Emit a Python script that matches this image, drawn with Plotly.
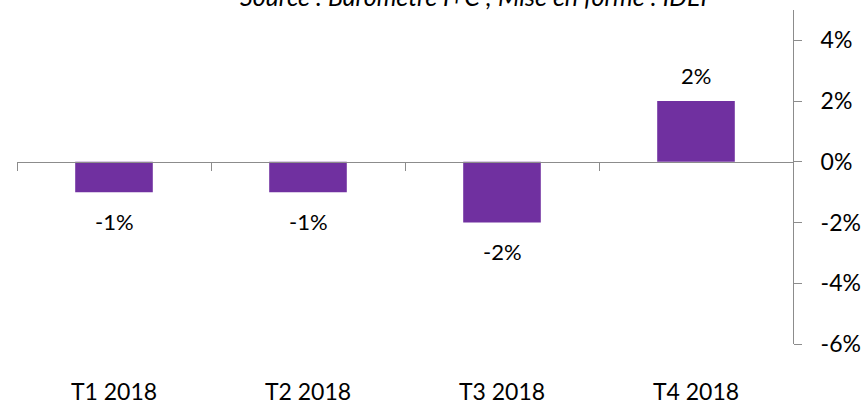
import plotly.graph_objects as go

categories = ["T1 2018", "T2 2018", "T3 2018", "T4 2018"]
values = [-0.01, -0.01, -0.02, 0.02]
y_ticks = [-0.06, -0.04, -0.02, 0.0, 0.02, 0.04]
y_range = [-0.06, 0.05]
source_text = "Source : Baromètre I+C ; Mise en forme : IDEP"


def pct(v):
    return f"{round(v * 100):d}%"


FONT = "Lato"
BAR_COLOR = "#7030A0"
AXIS_COLOR = "#8C8C8C"

W, H = 863, 405
ml, mr, mt, mb = 17, 70, 10, 61
plot_h = H - mt - mb
plot_w = W - ml - mr

fig = go.Figure()
fig.add_trace(go.Bar(
    x=categories, y=values, marker=dict(color=BAR_COLOR, line=dict(width=0)),
    width=0.4, hoverinfo="skip", showlegend=False, xaxis="x", yaxis="y",
))
# invisible trace carrying the zero-line axis with boundary tick marks
fig.add_trace(go.Scatter(
    x=categories, y=values, mode="none", hoverinfo="skip", showlegend=False,
    xaxis="x2", yaxis="y",
))

# data labels
for c, v in zip(categories, values):
    fig.add_annotation(
        x=c, y=v, xref="x", yref="y", text=pct(v), showarrow=False,
        yanchor="middle", yshift=26 if v >= 0 else -29,
        font=dict(family=FONT, size=22, color="#000000"),
    )

zero_pos = (0 - y_range[0]) / (y_range[1] - y_range[0])

fig.update_layout(
    width=W, height=H,
    margin=dict(l=ml, r=mr, t=mt, b=mb, pad=0, autoexpand=False),
    paper_bgcolor="white", plot_bgcolor="white",
    font=dict(family=FONT, size=23, color="#000000"),
    xaxis=dict(
        type="category", range=[-0.5, 3.5], showline=False, showgrid=False,
        zeroline=False, ticks="", ticklabelstandoff=32, automargin=False,
        tickfont=dict(family=FONT, size=23, color="#000000"),
    ),
    xaxis2=dict(
        type="category", range=[-0.5, 3.5], overlaying="x", anchor="free",
        position=zero_pos, side="bottom", showline=True, linecolor=AXIS_COLOR,
        linewidth=1, ticks="outside", tickson="boundaries", ticklen=8,
        tickcolor=AXIS_COLOR, tickwidth=1, showticklabels=False, showgrid=False,
        zeroline=False, automargin=False,
    ),
    yaxis=dict(
        side="right", range=y_range, tickvals=y_ticks,
        ticktext=[pct(t) for t in y_ticks],
        showline=True, linecolor=AXIS_COLOR, linewidth=1, ticks="outside",
        ticklen=8, tickcolor=AXIS_COLOR, tickwidth=1, showgrid=False,
        zeroline=False, ticklabelstandoff=14, automargin=False,
        tickfont=dict(family=FONT, size=23, color="#000000"),
    ),
    bargap=0.6,
)

fig.add_annotation(
    x=(477 - ml) / plot_w, y=1 + (mt + 4) / plot_h, xref="paper", yref="paper",
    text=f"<i>{source_text}</i>", showarrow=False, xanchor="center", yanchor="middle",
    font=dict(family=FONT, size=25, color="#000000"),
)

fig.write_html(
    "out.html",
    config={"displayModeBar": False},
    post_script="document.body.style.margin='0';document.body.style.padding='0';",
)
